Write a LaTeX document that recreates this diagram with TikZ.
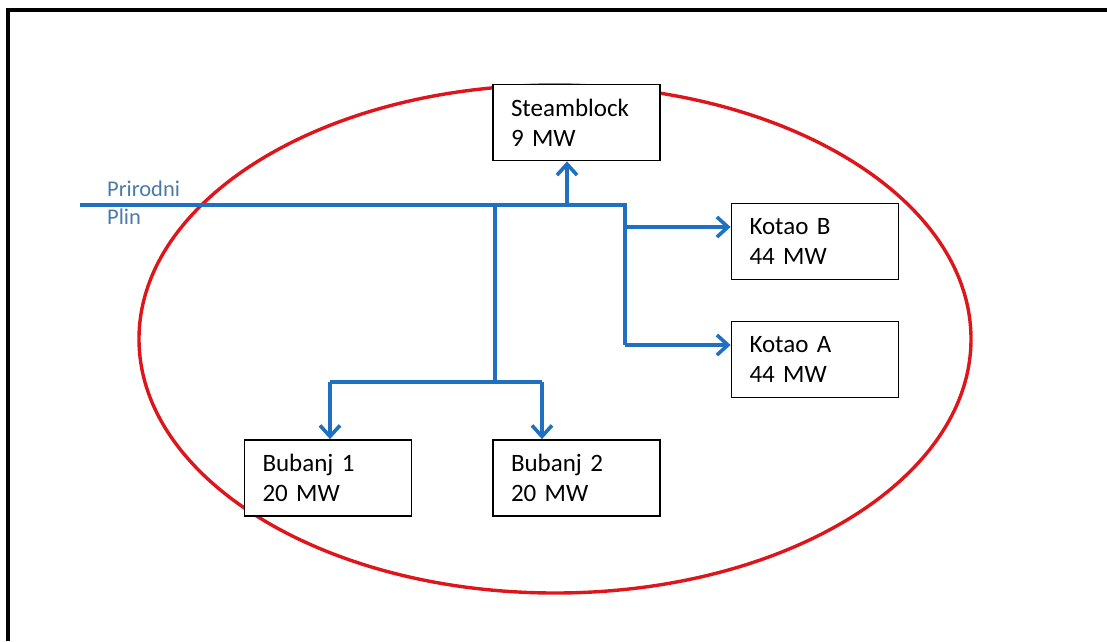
\documentclass[tikz,border=0pt]{standalone}
\usepackage{fontspec}
\setmainfont{Carlito}[WordSpace=0.55]
\usepackage{tikz}
\usetikzlibrary{arrows.meta, positioning, calc}

\definecolor{pipeblue}{RGB}{31,112,193}
\definecolor{labelblue}{RGB}{74,122,170}
\definecolor{ringred}{RGB}{222,22,28}

\begin{document}
\begin{tikzpicture}[
        x=1pt, y=-1pt,
        unit/.style={
            rectangle,
            draw=black,
            fill=white,
            line width=1.8pt,
            minimum width=167pt,
            minimum height=76pt,
            text width=131pt,
            inner xsep=18pt,
            align=left,
            text=black,
            font=\fontsize{25}{30}\selectfont
        },
        gastext/.style={
            anchor=base west,
            text=labelblue,
            inner sep=0pt,
            font=\fontsize{22.5}{28}\selectfont
        },
        pipe/.style={
            draw=pipeblue,
            line width=3.6pt
        },
        feed/.style={
            pipe,
            -{Straight Barb[length=11pt, width=20pt]}
        }
    ]
    \useasboundingbox (0,0) rectangle (1107,641);
    \draw[line width=3.2pt] (8,641) -- (8,10) -- (1107,10);

    % plant boundary
    \draw[ringred, line width=3.4pt] (555,339) ellipse [x radius=416pt, y radius=254pt];

    \node[unit] (steam) at (576.5,122.5) {Steamblock\\9 MW};
    \node[unit] (kotaob) at (815,241.5) {Kotao B\\44 MW};
    \node[unit] (kotaoa) at (815,359.5) {Kotao A\\44 MW};
    \node[unit] (bubanj1) at (328,478) {Bubanj 1\\20 MW};
    \node[unit] (bubanj2) at (576.5,478) {Bubanj 2\\20 MW};

    \node[gastext] (prirodni) at (107,196) {Prirodni};
    \node[gastext] (plin) at (107,224) {Plin};

    \coordinate (gas) at (80,205);
    \coordinate (tee) at (495,205);
    \coordinate (tees) at (567,205);
    \coordinate (teer) at (625,205);
    \coordinate (teeb) at (495,382);
    \coordinate (tapb) at (625,227);
    \coordinate (tapa) at (625,345);
    \coordinate (tap1) at (330,382);
    \coordinate (tap2) at (542,382);

    % Pipes
    \draw[pipe] (gas) -- (teer) -- (tapa);
    \draw[pipe] (tee) -- (teeb);
    \draw[pipe] (tap1) -- (tap2);
    \draw[feed] (tees) -- (tees |- steam.south);
    \draw[feed] (tapb) -- (tapb -| kotaob.west);
    \draw[feed] (tapa) -- (tapa -| kotaoa.west);
    \draw[feed] (tap1) -- (tap1 |- bubanj1.north);
    \draw[feed] (tap2) -- (tap2 |- bubanj2.north);

\end{tikzpicture}
\end{document}
